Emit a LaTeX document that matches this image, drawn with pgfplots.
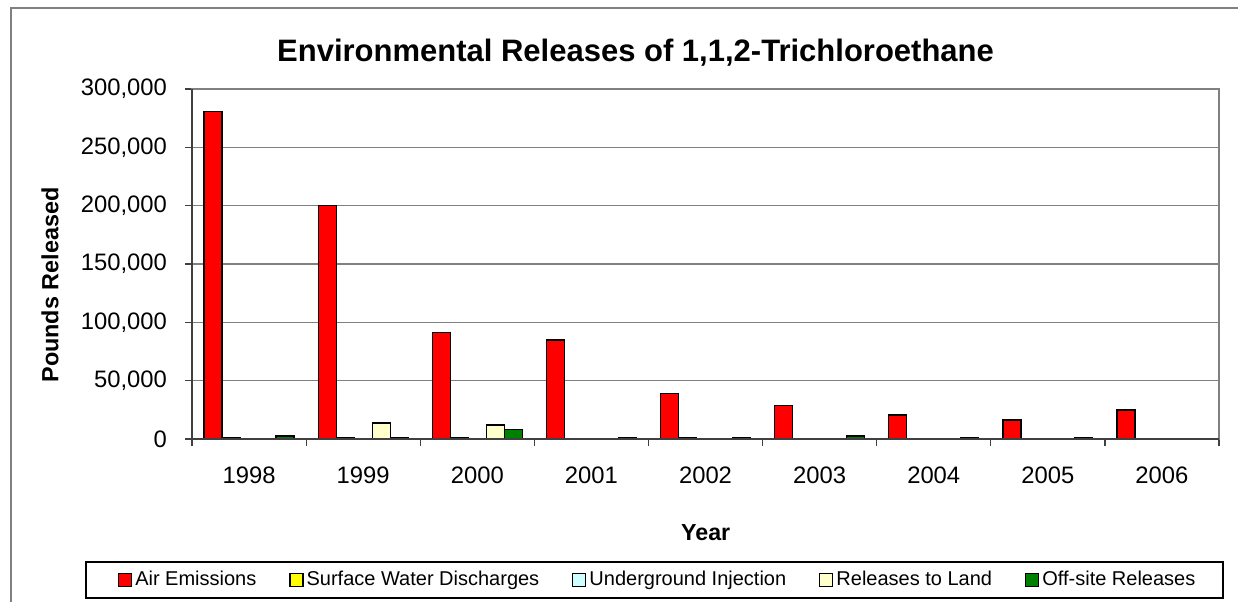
\documentclass[border=0pt]{standalone}
\usepackage{pgfplots}
\pgfplotsset{compat=1.18}
\usepackage{fontspec}
\setmainfont{Liberation Sans}
\definecolor{airc}{HTML}{FF0000}
\definecolor{swc}{HTML}{FFFF00}
\definecolor{ugc}{HTML}{CCFFFF}
\definecolor{landc}{HTML}{FFFFCC}
\definecolor{offc}{HTML}{008000}
\definecolor{frameg}{HTML}{808080}
\definecolor{gridg}{HTML}{808080}
\definecolor{axisd}{HTML}{404040}
\begin{document}
\begin{tikzpicture}[x=1bp,y=1bp]
\useasboundingbox (0,0) rectangle (619,301);
\draw[frameg, line width=0.8bp] (5.35,0) -- (5.35,297) -- (619,297);
\begin{axis}[
  at={(96bp,81.5bp)}, anchor=south west,
  scale only axis, width=513.5bp, height=175bp,
  xmin=-0.5, xmax=8.5, ymin=0, ymax=300000,
  ytick={0,50000,...,300000},
  scaled y ticks=false,
  yticklabel style={/pgf/number format/fixed, /pgf/number format/1000 sep={,}, /pgf/number format/assume math mode=true, xshift=-5.5bp},
  ticklabel style={font=\fontsize{11.9bp}{14bp}\selectfont},
  xtick={0,...,8},
  xticklabels={1998,1999,2000,2001,2002,2003,2004,2005,2006},
  minor xtick={-0.5,0.5,...,8.5},
  tick align=outside,
  major tick length=3.5bp,
  minor tick length=3.5bp,
  x tick style={draw=none},
  minor x tick style={draw=axisd, line width=0.6bp},
  y tick style={draw=axisd, line width=0.6bp},
  ymajorgrids,
  major grid style={gridg, line width=0.6bp},
  axis line style={frameg, line width=0.7bp},
  xtick pos=bottom, ytick pos=left,
  xticklabel style={yshift=-7bp},
  ybar, bar width=0.1577,
  every axis plot/.append style={draw=black, line width=0.65bp},
  legend columns=5,
  legend style={at={(axis description cs:0.4525,-0.4029)}, anchor=center, draw=none, fill=none,
    font=\fontsize{10bp}{12bp}\selectfont, nodes={inner sep=0pt},
    column sep=1.5bp,
    /tikz/every even column/.append style={column sep=16.5bp}},
  legend image code/.code={\draw[#1, line width=0.6bp] (0bp,-3.25bp) rectangle (6.5bp,3.25bp);},
  clip=false,
]
\addplot[fill=airc, bar shift=-0.3154] coordinates {(0,281000) (1,200000) (2,91500) (3,84800) (4,39200) (5,28500) (6,20600) (7,16300) (8,24900)};
\addplot[fill=swc, bar shift=-0.1577] coordinates {(0,1100) (1,900) (2,1000) (3,300) (4,1500) (5,500) (6,600) (7,300) (8,300)};
\addplot[fill=ugc, bar shift=0] coordinates {(0,200) (1,0) (2,100) (3,0) (4,200) (5,0) (6,0) (7,0) (8,0)};
\addplot[fill=landc, bar shift=0.1577] coordinates {(0,200) (1,13700) (2,12000) (3,700) (4,100) (5,200) (6,0) (7,100) (8,0)};
\addplot[fill=offc, bar shift=0.3154] coordinates {(0,2600) (1,800) (2,8000) (3,1500) (4,800) (5,2500) (6,1100) (7,1300) (8,700)};
\legend{Air Emissions, Surface Water Discharges, Underground Injection, Releases to Land, Off-site Releases}
\draw[axisd, line width=0.7bp] (rel axis cs:0,1) -- (rel axis cs:0,0) -- (rel axis cs:1,0);
\end{axis}
\draw[black, line width=0.7bp] (43,2) rectangle (611.5,20);
\node[anchor=base, font=\fontsize{15.5bp}{19bp}\selectfont\bfseries, inner sep=0pt] at (317.75,270.15) {Environmental Releases of 1,1,2-Trichloroethane};
\node[anchor=base, font=\fontsize{11.6bp}{14bp}\selectfont\bfseries, inner sep=0pt] at (352.85,31) {Year};
\node[anchor=base, rotate=90, font=\fontsize{11.7bp}{14bp}\selectfont\bfseries, inner sep=0pt] at (29.15,158.5) {Pounds Released};
\end{tikzpicture}
\end{document}
